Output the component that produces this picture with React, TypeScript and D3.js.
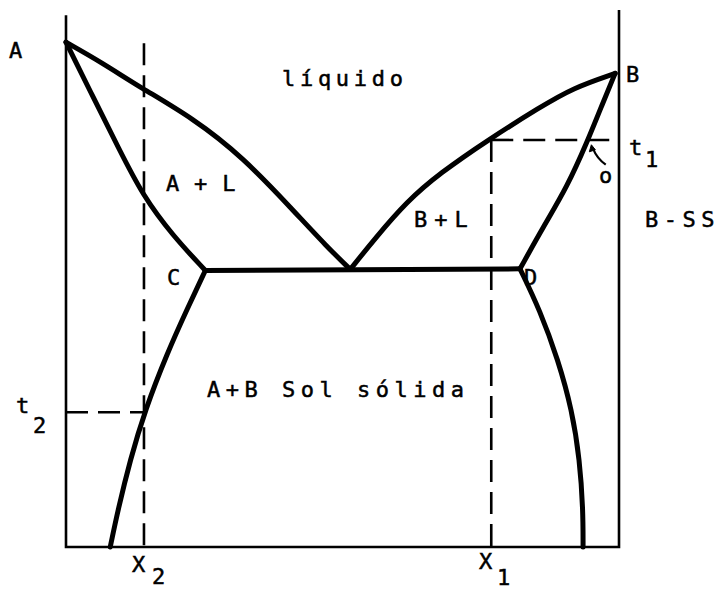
import React from "react";
import * as d3 from "d3";

// composition (0..100 % B) and temperature (0..100 relative)
const liquidusA: [number, number][] = [[0, 94], [6.5, 90.2], [13.4, 85.6], [22.9, 79.9], [32.0, 72.6], [41.0, 62.8], [47.2, 55.9], [51.4, 51.7]];
const solidusA: [number, number][] = [[0, 94], [4.9, 83.8], [9.4, 74.5], [13.9, 65.4], [19.3, 58.0], [25.2, 51.5]];
const liquidusB: [number, number][] = [[51.4, 51.7], [56.0, 57.6], [61.7, 64.4], [67.6, 69.6], [76.3, 75.8], [85.7, 81.9], [91.7, 85.5], [99.3, 88.2]];
const solidusB: [number, number][] = [[99.3, 88.2], [96.8, 82.0], [94.4, 75.8], [90.6, 67.0], [86.3, 59.6], [82.1, 51.8]];
const solvusA: [number, number][] = [[25.2, 51.5], [21.9, 44.3], [18.3, 36.1], [14.3, 25.5], [11.6, 16.2], [9.4, 6.9], [8.0, 0]];
const solvusB: [number, number][] = [[82.1, 51.8], [85.7, 44.1], [89.0, 34.8], [91.5, 25.5], [92.9, 16.2], [93.5, 6.9], [93.5, 0]];
const eutectic: [number, number][] = [[25.2, 51.5], [82.1, 51.8]];

const x2 = 14.1;
const x1 = 76.9;
const t1 = 75.8;
const t2 = 25.1;

const W = 721;
const H = 589;

export default function App() {
  const x = d3.scaleLinear().domain([0, 100]).range([66, 619]);
  const y = d3.scaleLinear().domain([0, 100]).range([547, 10]);
  const curve = d3.line<[number, number]>().x((d) => x(d[0])).y((d) => y(d[1])).curve(d3.curveBasis);
  const straight = d3.line<[number, number]>().x((d) => x(d[0])).y((d) => y(d[1]));

  const font = "'DejaVu Sans Mono', monospace";
  const thick = 5;
  const axisW = 2.6;
  const dash = "22 10";

  const label = (txt: string, px: number, py: number, size = 22, ls = 0, key?: string) => (
    <text key={key ?? txt + px} x={px} y={py} fontFamily={font} fontSize={size} letterSpacing={ls} fill="#000" stroke="#000" strokeWidth={0.5}>
      {txt}
    </text>
  );

  return (
    <svg width={W} height={H} style={{ position: "absolute", left: 0, top: 0, background: "#fff" }}>
      <rect width={W} height={H} fill="#fff" />
      {/* axes */}
      <path d={straight([[0, 99], [0, 0], [100, 0], [100, 100]])!} fill="none" stroke="#000" strokeWidth={axisW} strokeLinejoin="miter" />
      {/* dashed guides */}
      <g stroke="#000" strokeWidth={2.6} strokeDasharray={dash} fill="none">
        <path d={straight([[x2, 93.8], [x2, 0]])!} />
        <path d={straight([[x1, t1], [x1, 0]])!} />
        <path d={straight([[x1, t1], [100, t1]])!} />
        <path d={straight([[0, t2], [x2 + 0.2, t2]])!} />
      </g>
      {/* phase boundaries */}
      <g stroke="#000" strokeWidth={thick} fill="none" strokeLinecap="round" strokeLinejoin="round">
        <path d={curve(liquidusA)!} />
        <path d={curve(solidusA)!} />
        <path d={curve(liquidusB)!} />
        <path d={curve(solidusB)!} />
        <path d={curve(solvusA)!} />
        <path d={curve(solvusB)!} />
        <path d={straight(eutectic)!} />
      </g>
      {/* small arrow to point o */}
      <path d={`M${x(97.6)},${y(71.2)} Q${x(96.0)},${y(72.4)} ${x(95.3)},${y(74.2)}`} stroke="#000" strokeWidth={2.2} fill="none" />
      <path d={`M${x(95.0)},${y(74.9)} l-2,7 l6,-2 z`} fill="#000" stroke="#000" strokeWidth={1} />
      {/* labels */}
      {label("A", 9, 58)}
      {label("B", 626, 82)}
      {label("líquido", 282, 86, 22, 4.7)}
      {label("A + L", 166, 191, 22, 0.8)}
      {label("B+L", 414, 227, 22, 7)}
      {label("B-SS", 645, 227, 22, 5.5)}
      {label("C", 167, 285)}
      {label("D", 524, 285)}
      {label("A+B Sol sólida", 207, 397, 22, 5.5)}
      {label("t", 629, 155)}
      {label("1", 645, 167)}
      {label("o", 599, 183)}
      {label("t", 16, 413)}
      {label("2", 33, 433)}
      {label("X", 132, 572)}
      {label("2", 152, 584)}
      {label("X", 479, 569)}
      {label("1", 497, 585)}
    </svg>
  );
}
